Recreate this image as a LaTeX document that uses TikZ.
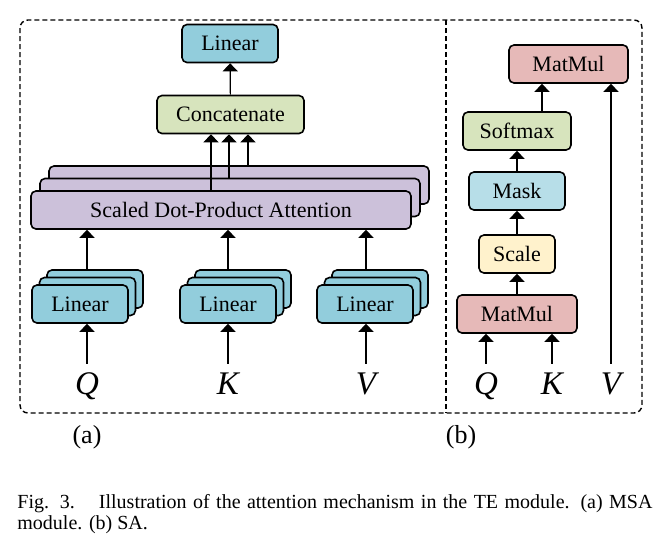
\documentclass[tikz,border=0pt]{standalone}
\usepackage{fontspec}
\setmainfont{Liberation Serif}
\usetikzlibrary{arrows.meta}

\definecolor{linblue}{RGB}{146,205,220}
\definecolor{catgreen}{RGB}{215,228,189}
\definecolor{attpurple}{RGB}{204,193,218}
\definecolor{mmred}{RGB}{230,185,184}
\definecolor{maskblue}{RGB}{183,222,232}
\definecolor{scaleyellow}{RGB}{255,242,204}

\begin{document}
\begin{tikzpicture}[x=0.5pt, y=-0.5pt,
        box/.style={draw=black, line width=0.8pt, rounded corners=2.5pt, minimum height=19pt, inner sep=0pt, font=\fontsize{11}{13}\selectfont},
        arr/.style={-{Triangle[width=7.5pt,length=4pt]}, line width=0.6pt},
        lbl/.style={font=\fontsize{16.5}{16.5}\selectfont\itshape, inner sep=0pt, text height=15pt, text depth=0pt, anchor=base},
        sublbl/.style={font=\fontsize{13}{15}\selectfont, inner sep=0pt},
        panel/.style={line width=0.7pt, dash pattern=on 2.5pt off 1.5pt}]

            \useasboundingbox (0,0) rectangle (670,553);

            % Draw the frame
            \draw[panel, rounded corners=4pt] (20,20) rectangle (642,413);
            \draw[panel] (446,20) -- (446,413);
            \node[sublbl] (suba) at (87,437) {(a)};
            \node[sublbl] (subb) at (461,437) {(b)};

            % Draw the output layers (a)
            \node[box, fill=linblue, minimum width=48pt] (lin) at (230,43.5) {Linear};
            \node[box, fill=catgreen, minimum width=73.5pt] (cat) at (230.5,114.5) {Concatenate};

            % Draw the attention heads (back to front)
            \node[box, fill=attpurple, minimum width=190pt] (att3) at (239,185) {};
            \node[box, fill=attpurple, minimum width=190pt] (att2) at (230,197.5) {};
            \node[box, fill=attpurple, minimum width=190pt] (att1) at (221,210) {Scaled Dot-Product Attention};

            % Draw the linear stacks
            \foreach \n/\x in {q/80, k/228, v/365} {
                \node[box, fill=linblue, minimum width=48pt] (\n3) at (\x+15,289) {};
                \node[box, fill=linblue, minimum width=48pt] (\n2) at (\x+7.5,296.5) {};
                \node[box, fill=linblue, minimum width=48pt] (\n1) at (\x,304) {Linear};
            }

            % Inputs (a)
            \node[lbl] (q) at (87,394) {Q};
            \node[lbl] (k) at (228,394) {K};
            \node[lbl] (v) at (366,394) {V};

            \foreach \n in {q,k,v} {
                \draw[arr] (\n.north) -- (\n.north |- \n1.south);
                \draw[arr] (\n.north |- \n3.north) -- (\n.north |- att1.south);
            }
            \draw[arr] ([xshift=-9.75pt]cat.south |- att1.north) -- ([xshift=-9.75pt]cat.south);
            \draw[arr] ([xshift=-0.75pt]cat.south |- att2.north) -- ([xshift=-0.75pt]cat.south);
            \draw[arr] ([xshift=8.75pt]cat.south |- att3.north) -- ([xshift=8.75pt]cat.south);
            \draw[arr] (cat) -- (lin);

            % Draw the attention block (b)
            \node[box, fill=mmred, minimum width=59.5pt] (mm2) at (568.5,64) {MatMul};
            \node[box, fill=catgreen, minimum width=54pt] (soft) at (517,131) {Softmax};
            \node[box, fill=maskblue, minimum width=48pt] (mask) at (517,191) {Mask};
            \node[box, fill=scaleyellow, minimum width=38pt] (scale) at (517,254) {Scale};
            \node[box, fill=mmred, minimum width=60pt] (mm1) at (517,314) {MatMul};

            % Inputs (b)
            \node[lbl] (qb) at (486,394) {Q};
            \node[lbl] (kb) at (552,394) {K};
            \node[lbl] (vb) at (611,394) {V};

            \draw[arr] (qb.north) -- (qb.north |- mm1.south);
            \draw[arr] (kb.north) -- (kb.north |- mm1.south);
            \draw[arr] (vb.north) -- (vb.north |- mm2.south);
            \draw[arr] (mm1) -- (scale);
            \draw[arr] (scale) -- (mask);
            \draw[arr] (mask) -- (soft);
            \draw[arr] ([xshift=12.5pt]soft.north) -- ([xshift=12.5pt]soft.north |- mm2.south);

            % Caption
            \node[anchor=north west, text width=317.5pt, align=justify, inner sep=0pt, font=\fontsize{10}{10.5}\selectfont] (cap) at (17,494) {Fig. 3.\hspace{1.2em}Illustration of the attention mechanism in the TE module. (a) MSA\linebreak module. (b) SA.};

        \end{tikzpicture}
\end{document}
